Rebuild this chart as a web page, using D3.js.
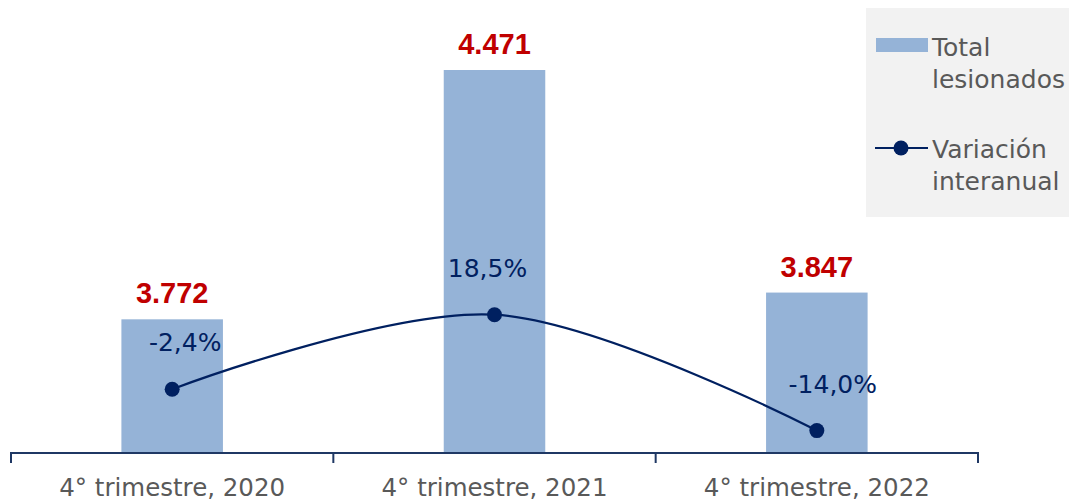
<!DOCTYPE html>
<html>
<head>
<meta charset="utf-8">
<script src="https://cdn.jsdelivr.net/npm/d3@7"></script>
<style>
  body { margin: 0; background: #fff; }
  text { font-family: "DejaVu Sans", sans-serif; }
</style>
</head>
<body>
<div id="chart"></div>
<script>
// data
const categories = ["4° trimestre, 2020", "4° trimestre, 2021", "4° trimestre, 2022"];
const totalLesionados = [3772, 4471, 3847];
const variacion = [-2.4, 18.5, -14.0];
const totalLabels = ["3.772", "4.471", "3.847"];
const variacionLabels = ["-2,4%", "18,5%", "-14,0%"];

const width = 1069;
const height = 502;
const margin = { top: 24, bottom: 50, left: 11, right: 91 };

const svg = d3.select("#chart")
    .append("svg")
    .attr("width", width)
    .attr("height", height);

const x = d3.scaleBand()
    .domain(categories)
    .range([margin.left, width - margin.right])
    .paddingInner(0)
    .paddingOuter(0);

const y = d3.scaleLinear()
    .domain([3400, 4600])
    .range([height - margin.bottom, margin.top]);

const y2 = d3.scaleLinear()
    .domain([-20, 100])
    .range([height - margin.bottom, margin.top]);

const barW = x.bandwidth() * 0.315;
const cx = d => x(d) + x.bandwidth() / 2;

// bars
svg.append("g")
    .attr("fill", "#95b3d7")
    .selectAll("rect")
    .data(categories)
    .join("rect")
    .attr("x", (d) => cx(d) - barW / 2)
    .attr("y", (d, i) => y(totalLesionados[i]))
    .attr("width", barW)
    .attr("height", (d, i) => y(3400) - y(totalLesionados[i]));

// bar labels
svg.append("g")
    .selectAll("text")
    .data(categories)
    .join("text")
    .attr("x", d => cx(d))
    .attr("y", (d, i) => y(totalLesionados[i]) - 16)
    .attr("text-anchor", "middle")
    .attr("font-size", "29px")
    .attr("font-weight", "bold")
    .attr("fill", "#c00000")
    .style("font-family", "'Liberation Sans', Arial, sans-serif")
    .text((d, i) => totalLabels[i]);

// x axis
const xAxis = g => g
    .attr("transform", `translate(0,${height - margin.bottom + 1})`)
    .call(d3.axisBottom(x).tickSize(0).tickPadding(26))
    .call(g => g.select(".domain").attr("stroke", "#1f3864").attr("stroke-width", 2)
        .attr("d", `M${margin.left},10V0H${width - margin.right}V10`))
    .call(g => g.selectAll(".tick text").attr("font-size", "24.5px").attr("fill", "#595959")
        .style("font-family", "'DejaVu Sans', sans-serif"));
svg.append("g").call(xAxis);

// band separators
svg.append("g")
    .selectAll("line")
    .data(categories.slice(1))
    .join("line")
    .attr("x1", d => x(d)).attr("x2", d => x(d))
    .attr("y1", height - margin.bottom + 1).attr("y2", height - margin.bottom + 11)
    .attr("stroke", "#1f3864").attr("stroke-width", 2);

// line series
const line = d3.line()
    .x((d, i) => cx(categories[i]))
    .y(d => y2(d))
    .curve(d3.curveCatmullRom.alpha(0.5));

svg.append("path")
    .datum(variacion)
    .attr("fill", "none")
    .attr("stroke", "#002060")
    .attr("stroke-width", 2.2)
    .attr("d", line);

svg.append("g")
    .attr("fill", "#002060")
    .selectAll("circle")
    .data(variacion)
    .join("circle")
    .attr("cx", (d, i) => cx(categories[i]))
    .attr("cy", d => y2(d))
    .attr("r", 7.5);

const pctDx = [13, -7, 16];
svg.append("g")
    .selectAll("text")
    .data(variacion)
    .join("text")
    .attr("x", (d, i) => cx(categories[i]) + pctDx[i])
    .attr("y", d => y2(d) - 38)
    .attr("text-anchor", "middle")
    .attr("font-size", "25px")
    .attr("fill", "#002060")
    .text((d, i) => variacionLabels[i]);

// legend
const lg = svg.append("g");
lg.append("rect")
    .attr("x", 866).attr("y", 8)
    .attr("width", 203).attr("height", 209)
    .attr("fill", "#f2f2f2");
lg.append("rect")
    .attr("x", 876).attr("y", 38)
    .attr("width", 52).attr("height", 14)
    .attr("fill", "#95b3d7");
lg.append("line")
    .attr("x1", 875).attr("x2", 928)
    .attr("y1", 148).attr("y2", 148)
    .attr("stroke", "#002060").attr("stroke-width", 2.2);
lg.append("circle")
    .attr("cx", 901).attr("cy", 148).attr("r", 7.5)
    .attr("fill", "#002060");

const legendText = [["Total", 56], ["lesionados", 88], ["Variación", 158], ["interanual", 190]];
lg.selectAll("text.lt")
    .data(legendText)
    .join("text")
    .attr("class", "lt")
    .attr("x", 932)
    .attr("y", d => d[1])
    .attr("font-size", "25px")
    .attr("fill", "#595959")
    .text(d => d[0]);
</script>
</body>
</html>
